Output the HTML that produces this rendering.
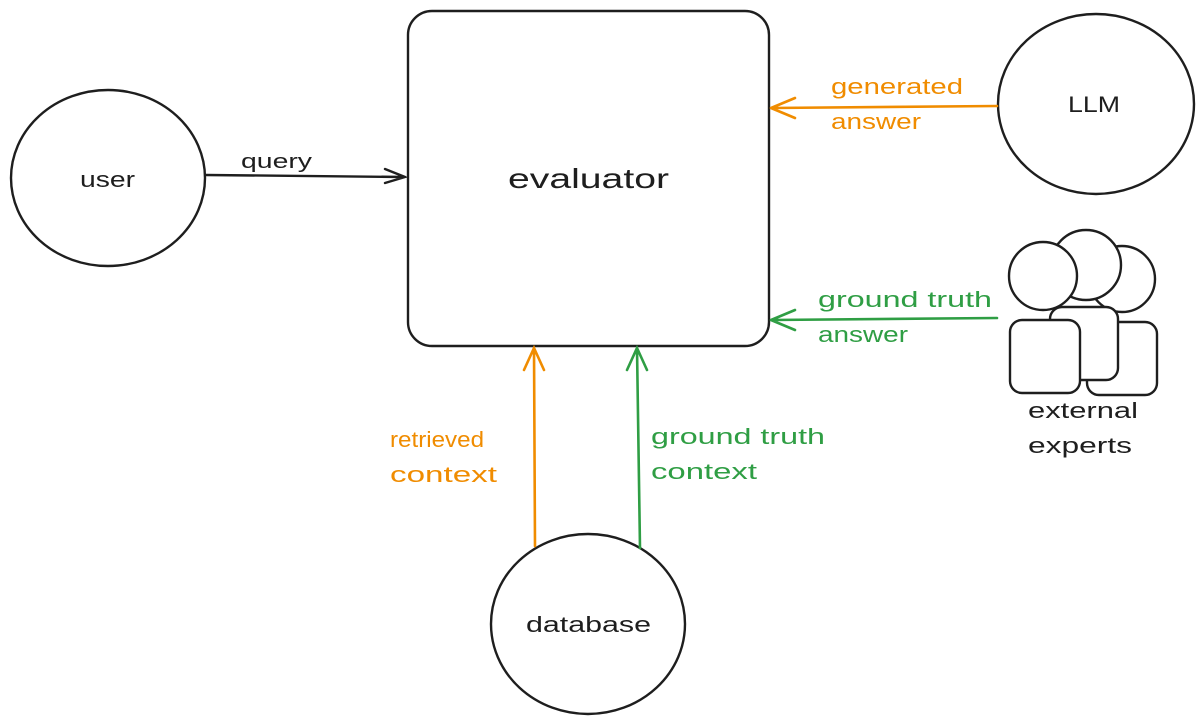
<!DOCTYPE html>
<html><head><meta charset="utf-8"><style>
html,body{margin:0;padding:0;background:#fff;}
svg{display:block}
text{font-family:"Liberation Sans",sans-serif;}
</style></head><body>
<svg width="1203" height="723" viewBox="0 0 1203 723" xmlns="http://www.w3.org/2000/svg">
<g fill="none" stroke="#1e1e1e" stroke-width="2.4" stroke-linecap="round">
  <rect x="408" y="11" width="361" height="335" rx="24" fill="#fff"/>
  <ellipse cx="108" cy="178" rx="97" ry="88"/>
  <ellipse cx="1096" cy="104" rx="98" ry="90"/>
  <ellipse cx="588" cy="624" rx="97" ry="90"/>
  <rect x="1087" y="322" width="70" height="73" rx="12" fill="#fff"/>
  <circle cx="1122" cy="279" r="33" fill="#fff"/>
  <rect x="1050" y="307" width="68" height="73" rx="12" fill="#fff"/>
  <circle cx="1086" cy="265" r="35" fill="#fff"/>
  <rect x="1010" y="320" width="70" height="73" rx="12" fill="#fff"/>
  <circle cx="1043" cy="276" r="34" fill="#fff"/>
  <path d="M206 175 L405 177 M385 169 L405 177 L385 183"/>
</g>
<g fill="none" stroke="#f08c00" stroke-width="2.6" stroke-linecap="round">
  <path d="M997 106 L771 108 M795 98 L771 108 M795 118 L771 108"/>
  <path d="M535 546 L534 348 M524 370 L534 348 L544 370"/>
</g>
<g fill="none" stroke="#2f9e44" stroke-width="2.6" stroke-linecap="round">
  <path d="M997 318 L771 320 M795 310 L771 320 M795 330 L771 320"/>
  <path d="M640 548 L637 348 M627 370 L637 348 L647 370"/>
</g>
<g font-size="22" fill="#1e1e1e">
  <text x="80" y="187" textLength="55" lengthAdjust="spacingAndGlyphs">user</text>
  <text x="1068" y="112" textLength="52" lengthAdjust="spacingAndGlyphs">LLM</text>
  <text x="526" y="632" textLength="125" lengthAdjust="spacingAndGlyphs">database</text>
  <text x="508" y="188" font-size="28" textLength="161" lengthAdjust="spacingAndGlyphs">evaluator</text>
  <text x="241" y="168" font-size="20" textLength="71" lengthAdjust="spacingAndGlyphs">query</text>
  <text x="1028" y="418" textLength="110" lengthAdjust="spacingAndGlyphs">external</text>
  <text x="1028" y="453" textLength="104" lengthAdjust="spacingAndGlyphs">experts</text>
</g>
<g font-size="22" fill="#f08c00">
  <text x="831" y="94" textLength="132" lengthAdjust="spacingAndGlyphs">generated</text>
  <text x="831" y="129" textLength="90" lengthAdjust="spacingAndGlyphs">answer</text>
  <text x="390" y="447" textLength="94" lengthAdjust="spacingAndGlyphs">retrieved</text>
  <text x="390" y="482" textLength="107" lengthAdjust="spacingAndGlyphs">context</text>
</g>
<g font-size="22" fill="#2f9e44">
  <text x="818" y="307" textLength="174" lengthAdjust="spacingAndGlyphs">ground truth</text>
  <text x="818" y="342" textLength="90" lengthAdjust="spacingAndGlyphs">answer</text>
  <text x="651" y="444" textLength="174" lengthAdjust="spacingAndGlyphs">ground truth</text>
  <text x="651" y="479" textLength="106" lengthAdjust="spacingAndGlyphs">context</text>
</g>
</svg>
</body></html>
